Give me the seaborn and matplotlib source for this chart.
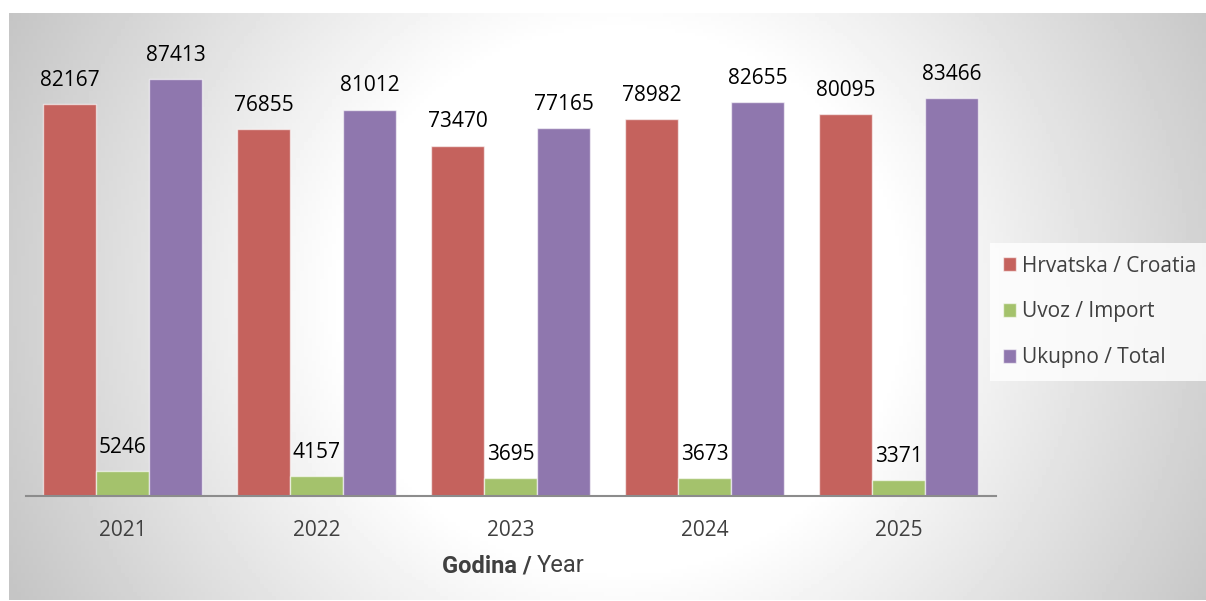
import matplotlib
matplotlib.use("Agg")
import matplotlib.pyplot as plt
import numpy as np
import pandas as pd
import seaborn as sns

years = ["2021", "2022", "2023", "2024", "2025"]
series = ["Hrvatska / Croatia", "Uvoz / Import", "Ukupno / Total"]
croatia = [82167, 76855, 73470, 78982, 80095]
imports = [5246, 4157, 3695, 3673, 3371]
total = [87413, 81012, 77165, 82655, 83466]
colors = ["#C5625D", "#A4C26C", "#8F77AE"]

df = pd.DataFrame({
    "year": years * 3,
    "series": [series[0]] * 5 + [series[1]] * 5 + [series[2]] * 5,
    "value": croatia + imports + total,
})

sns.set_theme(style="white")
plt.rcParams["font.family"] = ["Open Sans", "DejaVu Sans"]

W, H = 1206, 601
fig = plt.figure(figsize=(W / 100, H / 100), dpi=100)
fig.patch.set_facecolor("white")

# radial grey background panel
bg = fig.add_axes([9 / W, 1 - 600 / H, (W - 9) / W, (600 - 13) / H], zorder=0)
gx, gy = np.meshgrid(np.linspace(9, W, 300), np.linspace(13, 600, 150))
r = np.sqrt(((gx - 620) / 620) ** 2 + ((gy - 300) / 600) ** 2)
shade = 1 - 0.23 * np.clip((r - 0.45) / 0.65, 0, 1)
bg.imshow(shade, cmap="gray", vmin=0, vmax=1, aspect="auto", extent=(0, 1, 1, 0))
bg.set_axis_off()

ax = fig.add_axes([25.5 / W, (H - 496) / H, 970 / W, 477 / H], zorder=1)
ax.patch.set_alpha(0)
sns.barplot(data=df, x="year", y="value", hue="series", hue_order=series,
            palette=colors, width=0.82, saturation=1, ax=ax,
            edgecolor=(1, 1, 1, 0.6), linewidth=1, legend=True)
for cont in ax.containers:
    ax.bar_label(cont, fmt="%d", padding=9.5, fontsize=15, color="black")

ax.set_ylim(0, 100000)
ax.set_xlim(-0.5, 4.5)
ax.set_yticks([])
ax.set_ylabel("")
ax.set_xlabel("")
for s in ["top", "left", "right"]:
    ax.spines[s].set_visible(False)
ax.spines["bottom"].set_color("#8c8c8c")
ax.spines["bottom"].set_linewidth(1.5)
ax.tick_params(axis="x", length=0, pad=17, labelsize=15, labelcolor="#404040")

handles, labels = ax.get_legend_handles_labels()
ax.get_legend().remove()
leg = fig.legend(handles, labels, loc="upper left",
                 bbox_to_anchor=(990 / W, 1 - 243 / H), borderaxespad=0,
                 frameon=True, fancybox=False, fontsize=15, labelcolor="#404040",
                 handlelength=0.65, handleheight=0.65, handletextpad=0.3,
                 labelspacing=1.2, borderpad=0.6)
leg.get_frame().set_facecolor((1, 1, 1, 0.25))
leg.get_frame().set_edgecolor("none")
leg.set_zorder(2)

lab_font = ["Liberation Sans Narrow", "Roboto", "DejaVu Sans"]
fig.text(532 / W, 1 - 566 / H, "Godina /", ha="right", va="center",
         fontsize=17, fontweight="bold", color="#404040", family=lab_font, zorder=3)
fig.text(537 / W, 1 - 566 / H, "Year", ha="left", va="center",
         fontsize=17, color="#404040", family=lab_font, zorder=3)

fig.savefig("out.png", dpi=100)
